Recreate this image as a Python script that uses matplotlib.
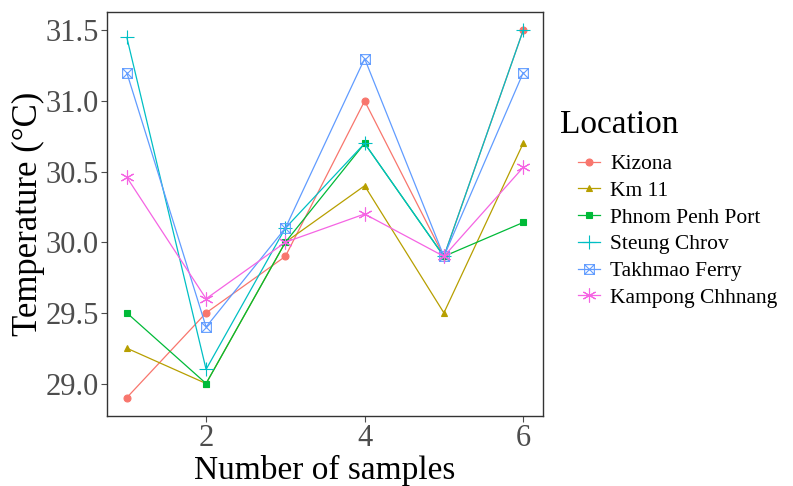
import matplotlib.pyplot as plt
import numpy as np
from matplotlib.path import Path

plt.rcParams['font.family'] = ['Liberation Serif', 'DejaVu Serif']

samples = [1, 2, 3, 4, 5, 6]
kizona = [28.9, 29.5, 29.9, 31.0, 29.9, 31.5]
km11 = [29.25, 29.0, 30.0, 30.4, 29.5, 30.7]
phnom_penh_port = [29.5, 29.0, 30.0, 30.7, 29.9, 30.14]
steung_chrov = [31.45, 29.1, 30.1, 30.7, 29.9, 31.5]
takhmao_ferry = [31.2, 29.4, 30.1, 31.3, 29.9, 31.2]
kampong_chhnang = [30.46, 29.6, 30.0, 30.2, 29.9, 30.53]

# open square with an x inside (ggplot shape 7)
box_x = Path([(-1, -1), (1, -1), (1, 1), (-1, 1), (-1, -1),
              (-1, -1), (1, 1), (-1, 1), (1, -1)],
             [Path.MOVETO, Path.LINETO, Path.LINETO, Path.LINETO, Path.LINETO,
              Path.MOVETO, Path.LINETO, Path.MOVETO, Path.LINETO])

series = [
    ('Kizona', kizona, '#F8766D', 'o', 5),
    ('Km 11', km11, '#B79F00', '^', 5),
    ('Phnom Penh Port', phnom_penh_port, '#00BA38', 's', 5),
    ('Steung Chrov', steung_chrov, '#00BFC4', '+', 10),
    ('Takhmao Ferry', takhmao_ferry, '#619CFF', box_x, 7),
    ('Kampong Chhnang', kampong_chhnang, '#F564E3', (6, 2, 0), 10),
]

fig = plt.figure(figsize=(7.93, 4.86), dpi=100)
ax = fig.add_axes([107 / 793, 70 / 486, 436 / 793, 404 / 486])

for name, vals, col, mk, size in series:
    face = 'none' if mk is box_x else col
    ax.plot(samples, vals, color=col, marker=mk, markersize=size,
            markerfacecolor=face, linewidth=0.9, markeredgewidth=0.8,
            label=name)

ax.set_xlim(0.75, 6.25)
ax.set_ylim(28.77, 31.63)
ax.set_xticks([2, 4, 6])
ax.set_yticks(np.arange(29.0, 31.6, 0.5))
ax.set_yticklabels(['29.0', '29.5', '30.0', '30.5', '31.0', '31.5'])
ax.tick_params(colors='#4D4D4D', labelsize=22, length=4, width=0.8, pad=2)
for s in ax.spines.values():
    s.set_color('#333333')
    s.set_linewidth(1.0)
ax.set_xlabel('Number of samples', fontsize=24, labelpad=1)
ax.set_ylabel('Temperature (°C)', fontsize=25, labelpad=0)

fig.text(560 / 793, 1 - 133 / 486, 'Location', fontsize=24, va='baseline')
ax.legend(loc='upper left', bbox_to_anchor=(578 / 793, 1 - 154 / 486),
          bbox_transform=fig.transFigure, frameon=False, fontsize=15.5,
          borderpad=0, borderaxespad=0,
          handlelength=1.0, labelspacing=0.31, handletextpad=0.5)

plt.savefig('out.png', dpi=100)
